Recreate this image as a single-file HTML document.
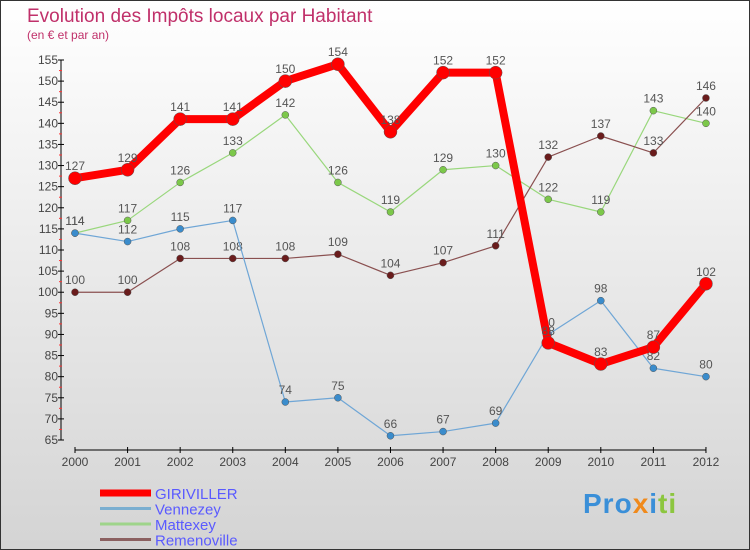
<!DOCTYPE html>
<html><head><meta charset="utf-8"><style>
body{margin:0}
#c{width:750px;height:550px;position:relative;box-sizing:border-box;border:1px solid #333;background:linear-gradient(#ffffff,#d4d4d4);font-family:"Liberation Sans",sans-serif;overflow:hidden}
</style></head><body>
<div id="c">
<svg id="s" width="750" height="550" style="position:absolute;left:-1px;top:-1px">
<text x="27" y="22" font-size="19" fill="#c0306a">Evolution des Impôts locaux par Habitant</text>
<text x="27" y="39" font-size="12" fill="#c0306a">(en € et par an)</text>
<g id="ax"></g><g id="lines"></g>
</svg>
<div style="position:absolute;left:582px;top:487px;font-size:28px;font-weight:bold;letter-spacing:1px"><span style="color:#3a8fd8">Pro</span><span style="color:#f08a1c">x</span><span style="color:#3a8fd8">i</span><span style="color:#8cc63f">ti</span></div>
</div>
<script>
const years=["2000","2001","2002","2003","2004","2005","2006","2007","2008","2009","2010","2011","2012"];
const giriviller=[127,129,141,141,150,154,138,152,152,88,83,87,102];
const vennezey=[114,112,115,117,74,75,66,67,69,90,98,82,80];
const mattexey=[114,117,126,133,142,126,119,129,130,122,119,143,140];
const remenoville=[100,100,108,108,108,109,104,107,111,132,137,133,146];
const yTicks=[65,70,75,80,85,90,95,100,105,110,115,120,125,130,135,140,145,150,155];
const NS="http://www.w3.org/2000/svg";
const X=i=>75+i*52.58, Y=v=>440-(v-65)*380/90;
function mk(t,a,p){const e=document.createElementNS(NS,t);for(const k in a)e.setAttribute(k,a[k]);p.appendChild(e);return e;}
const ax=document.getElementById('ax'),ln=document.getElementById('lines');
let e=mk('line',{x1:61,y1:Y(155),x2:61,y2:Y(65),stroke:'#000'},ax);

e=mk('line',{x1:X(0),y1:450,x2:X(12),y2:450,stroke:'#000'},ax);

yTicks.forEach(v=>{mk('line',{x1:58,x2:64,y1:Y(v),y2:Y(v),stroke:'#000'},ax);
 if(v<155)mk('line',{x1:59,x2:62,y1:Y(v+2.5),y2:Y(v+2.5),stroke:'#f33'},ax);
 const t=mk('text',{x:58,y:Y(v)+4,'font-size':12,fill:'#444','text-anchor':'end'},ax);t.textContent=v;
 });
years.forEach((y,i)=>{mk('line',{x1:X(i),x2:X(i),y1:447,y2:453,stroke:'#000'},ax);
 const t=mk('text',{x:X(i),y:466,'font-size':12,fill:'#444','text-anchor':'middle'},ax);t.textContent=y;
 });
function series(name,d,col,w,r,dot){
 const g=mk('g',{},ln);
 mk('polyline',{points:d.map((v,i)=>X(i)+','+Y(v)).join(' '),fill:'none',stroke:col,'stroke-width':w,'stroke-linejoin':'round'},g);
 d.forEach((v,i)=>{const c=mk('circle',{cx:X(i),cy:Y(v),r:r,fill:dot,stroke:'#555','stroke-width':0.5},g);
  
  const t=mk('text',{x:X(i),y:Y(v)-8,'font-size':12,fill:'#555','text-anchor':'middle'},g);t.textContent=v;
  });
}
series('mattexey',mattexey,'#99d77c',1.2,3.5,'#7cc84a');
series('remenoville',remenoville,'#8a5050',1.2,3.5,'#6a1c1c');
series('vennezey',vennezey,'#6fa6d6',1.2,3.5,'#3a8ccc');
series('giriviller',giriviller,'#f00',8,6.5,'#f00');
const leg=[['GIRIVILLER','#f00',7],['Vennezey','#7aaed0',3],['Mattexey','#9ed48a',3],['Remenoville','#8b6060',3]];
leg.forEach((l,i)=>{const y=493+i*15.5;
 const g=mk('g',{},ln);
 mk('line',{x1:100,x2:151,y1:y,y2:y,stroke:l[1],'stroke-width':l[2]},g);
 const t=mk('text',{x:155,y:y+6,'font-size':15,fill:'#5a5aff'},g);t.textContent=l[0];});
</script>
</body></html>
